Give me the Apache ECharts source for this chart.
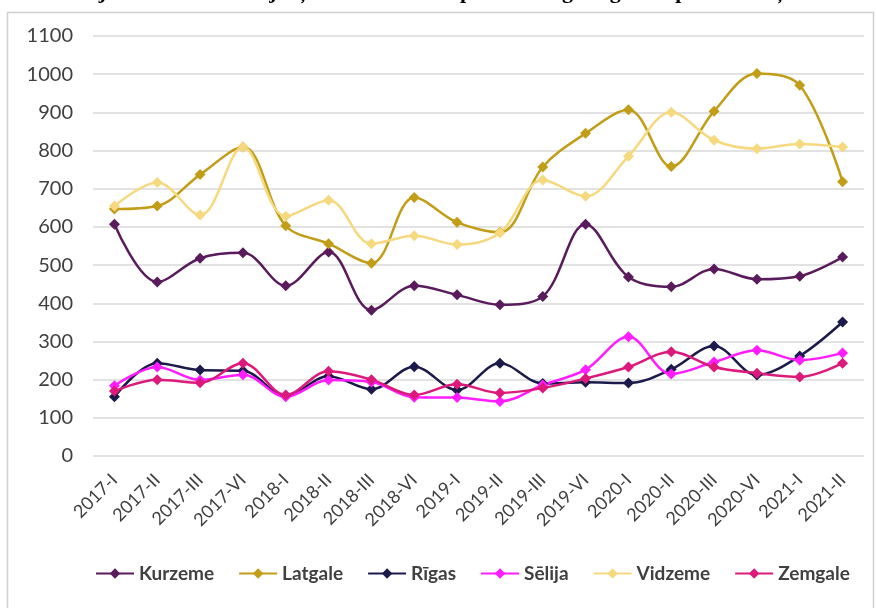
<!DOCTYPE html>
<html>
<head>
<meta charset="utf-8">
<script src="https://cdn.jsdelivr.net/npm/echarts@6/dist/echarts.min.js"></script>
<style>
html,body{margin:0;padding:0;background:#fff;}
#chart{width:876px;height:608px;}
</style>
</head>
<body>
<div id="chart"></div>
<script>
const categories = ['2017-I','2017-II','2017-III','2017-VI','2018-I','2018-II','2018-III','2018-VI','2019-I','2019-II','2019-III','2019-VI','2020-I','2020-II','2020-III','2020-VI','2021-I','2021-II'];
const kurzeme = [607, 456, 518, 532, 446, 534, 382, 446, 422, 396, 418, 607, 469, 443, 490, 463, 471, 521];
const latgale = [647, 655, 737, 809, 603, 556, 505, 677, 612, 586, 757, 845, 907, 758, 903, 1002, 971, 718];
const rigas   = [155, 243, 225, 223, 157, 209, 175, 234, 173, 243, 190, 193, 191, 227, 288, 212, 262, 351];
const selija  = [184, 233, 199, 213, 155, 199, 194, 154, 153, 143, 186, 226, 312, 215, 246, 277, 251, 270];
const vidzeme = [655, 716, 631, 809, 628, 670, 556, 577, 554, 585, 723, 680, 785, 900, 827, 805, 817, 809];
const zemgale = [170, 200, 192, 243, 160, 222, 200, 160, 188, 165, 178, 203, 233, 273, 233, 217, 207, 243];
const yTicks = [0, 100, 200, 300, 400, 500, 600, 700, 800, 900, 1000, 1100];
const titleText = 'Darījumu skaits ar mājokļiem nekustamā īpašuma tirgū reģionos pa ceturkšņiem';

const names = ['Kurzeme','Latgale','Rīgas','Sēlija','Vidzeme','Zemgale'];
const dataSets = [kurzeme, latgale, rigas, selija, vidzeme, zemgale];
const colors = ['#5a1b5c','#c29d18','#1b1a4a','#ff1dff','#f6d97e','#db1a7c'];

const chart = echarts.init(document.getElementById('chart'), null, {renderer:'canvas'});
chart.setOption({
  backgroundColor:'#ffffff',
  animation:false,
  graphic:[
    {type:'rect', shape:{x:7.5,y:12.5,width:866,height:620}, style:{fill:'none', stroke:'#d0d0d0', lineWidth:1.5}, z:-1},
    {type:'text', left:'center', top:-19, style:{text:titleText, font:'bold 22px "Liberation Serif"', fill:'#000'}}
  ],
  grid:{left:93, right:12, top:36, bottom:152},
  legend:{
    bottom:20, left:90, itemGap:24, itemWidth:38, itemHeight:13,
    textStyle:{fontFamily:'Lato', fontWeight:'bold', fontSize:19, color:'#404040'},
    data:names
  },
  xAxis:{
    type:'category', data:categories, boundaryGap:true,
    axisLine:{show:false}, axisTick:{show:false},
    axisLabel:{rotate:45, fontFamily:'Lato', fontSize:18, color:'#404040', margin:21, interval:0}
  },
  yAxis:{
    type:'value', min:yTicks[0], max:yTicks[yTicks.length-1], interval:100,
    axisLine:{show:false}, axisTick:{show:false},
    axisLabel:{fontFamily:'Lato', fontSize:20, color:'#404040', margin:20, formatter:function(v){return String(v);}},
    splitLine:{lineStyle:{color:'#d9d9d9', width:1.5}}
  },
  series: names.map((n,i)=>({
    name:n, type:'line', data:dataSets[i], smooth:0.35,
    symbol:'diamond', symbolSize:11,
    lineStyle:{color:colors[i], width:2.5},
    itemStyle:{color:colors[i]}
  }))
});
</script>
</body>
</html>
